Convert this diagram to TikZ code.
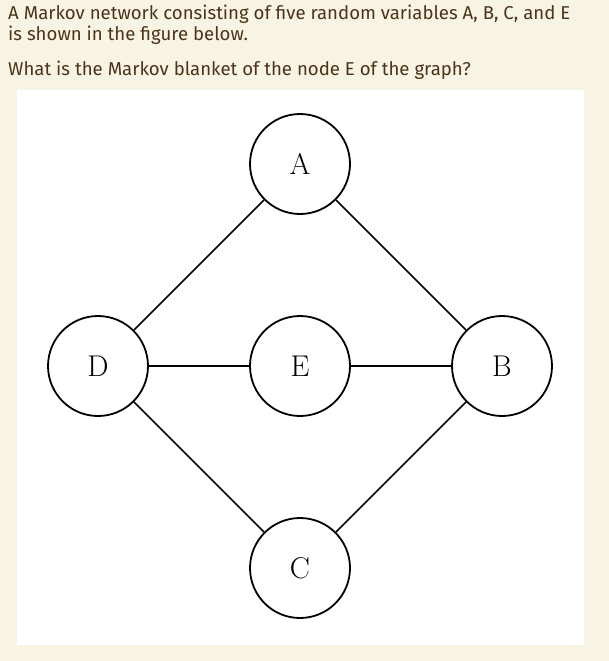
\documentclass[tikz,border=0pt]{standalone}
\usepackage{fontspec}
\newfontfamily\uifont{Fira Sans}
\begin{document}
\begin{tikzpicture}[x=1pt,y=-1pt,
  vnode/.style={circle,draw=black,line width=1.8pt,minimum size=100pt,inner sep=0pt,fill=white,font=\fontsize{30}{34}\selectfont},
  edge/.style={line width=1.6pt,black},
  txt/.style={anchor=west,inner sep=0pt,text=brown!40!black,font=\uifont\fontsize{18.6}{22}\selectfont}]
\fill[fill={rgb,255:red,248;green,244;blue,228}] (0,0) rectangle (609,661);
\useasboundingbox (0,0) rectangle (609,661);
\fill[white] (17,90) rectangle (584,645);
\node[txt] (t1) at (8,14) {A Markov network consisting of five random variables A, B, C, and E};
\node[txt] (t2) at (8,35) {is shown in the figure below.};
\node[txt] (t3) at (8,70) {What is the Markov blanket of the node E of the graph?};
\node[vnode] (A) at (300,164) {A};
\node[vnode] (E) at (300,366) {E};
\node[vnode] (D) at (98,366) {D};
\node[vnode] (B) at (502,366) {B};
\node[vnode] (C) at (300,568) {C};
\draw[edge] (A) -- (D);
\draw[edge] (A) -- (B);
\draw[edge] (D) -- (E);
\draw[edge] (E) -- (B);
\draw[edge] (D) -- (C);
\draw[edge] (C) -- (B);
\end{tikzpicture}
\end{document}
